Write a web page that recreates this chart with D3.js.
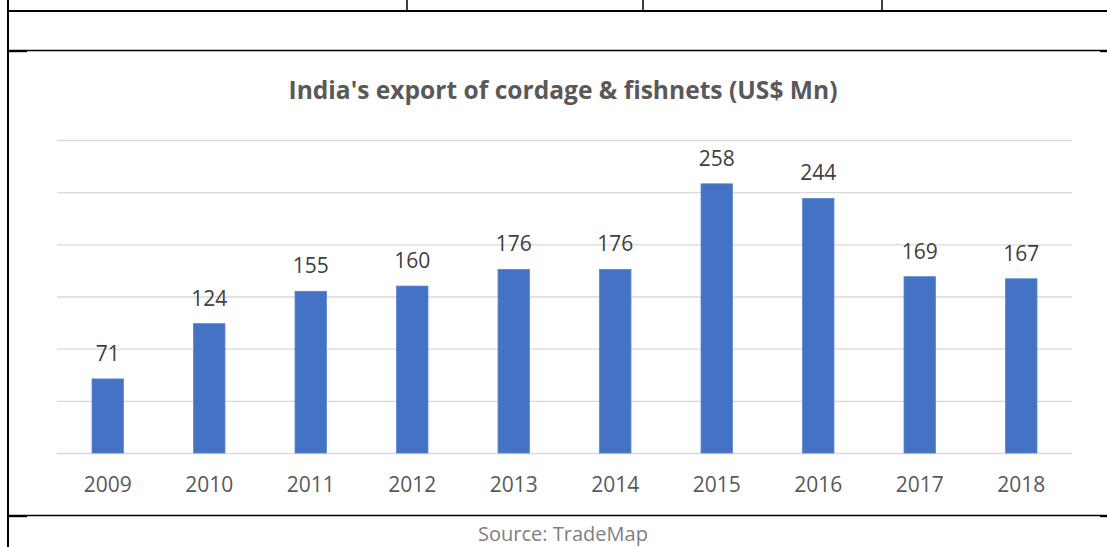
<html>
<head>
  <script src="https://d3js.org/d3.v7.min.js"></script>
  <style>
    body { margin: 0; background: #fff; }
    svg { display: block; font-family: "Open Sans", sans-serif; }
    .grid line { stroke: #d9d9d9; stroke-width: 1.3; }
    .grid .domain { display: none; }
    .xaxis .domain, .xaxis line { display: none; }
    .xaxis text { fill: #595959; font-size: 21px; font-family: "Open Sans", sans-serif; }
  </style>
</head>
<body>
<script>
  var years = ['2009', '2010', '2011', '2012', '2013', '2014', '2015', '2016', '2017', '2018'];
  var exports = [71, 124, 155, 160, 176, 176, 258, 244, 169, 167];
  var yTicks = [0, 50, 100, 150, 200, 250, 300];

  var width = 1107, height = 547;
  var plot = {left: 57, right: 1072, top: 140, bottom: 453};

  var svg = d3.select('body').append('svg')
    .attr('width', width)
    .attr('height', height);

  // page frame (table borders around the chart)
  var frame = svg.append('g').attr('stroke', '#000');
  frame.append('line').attr('x1', 8).attr('x2', 8).attr('y1', 0).attr('y2', height).attr('stroke-width', 2);
  frame.append('line').attr('x1', 8).attr('x2', width).attr('y1', 11).attr('y2', 11).attr('stroke-width', 2.2);
  [407, 643, 882].forEach(function(x) {
    frame.append('line').attr('x1', x).attr('x2', x).attr('y1', 0).attr('y2', 11).attr('stroke-width', 1.5);
  });
  [50.5, 515.5].forEach(function(y) {
    frame.append('line').attr('x1', 8).attr('x2', width).attr('y1', y).attr('y2', y).attr('stroke-width', 1.3);
    frame.append('line').attr('x1', 8).attr('x2', 27).attr('y1', y + 0.7).attr('y2', y + 0.7).attr('stroke-width', 2);
    frame.append('line').attr('x1', 1100).attr('x2', width).attr('y1', y + 0.7).attr('y2', y + 0.7).attr('stroke-width', 2);
  });

  var x = d3.scaleBand()
    .domain(years)
    .range([plot.left, plot.right])
    .paddingInner(0.69)
    .paddingOuter(0.345);

  var y = d3.scaleLinear()
    .domain([0, 300])
    .range([plot.bottom, plot.top]);

  svg.append('g')
    .attr('class', 'grid')
    .attr('transform', 'translate(' + plot.left + ',0)')
    .call(d3.axisLeft(y).tickValues(yTicks).tickSize(-(plot.right - plot.left)).tickFormat(''));

  svg.append('g')
    .selectAll('rect')
    .data(exports)
    .enter()
    .append('rect')
    .attr('x', function(d, i) { return x(years[i]); })
    .attr('width', x.bandwidth())
    .attr('y', function(d) { return y(d); })
    .attr('height', function(d) { return y(0) - y(d); })
    .attr('fill', '#4472c4')
    .attr('stroke', '#5a85d0')
    .attr('stroke-width', 0.8);

  svg.append('g')
    .selectAll('text')
    .data(exports)
    .enter()
    .append('text')
    .attr('x', function(d, i) { return x(years[i]) + x.bandwidth() / 2; })
    .attr('y', function(d) { return y(d) - 18; })
    .attr('text-anchor', 'middle')
    .attr('fill', '#404040')
    .attr('font-size', 21)
    .text(function(d) { return d; });

  var xAxis = svg.append('g')
    .attr('class', 'xaxis')
    .attr('transform', 'translate(0,' + plot.bottom + ')')
    .call(d3.axisBottom(x).tickSize(0).tickPadding(0));
  xAxis.selectAll('text').attr('dy', null).attr('y', 39);

  svg.append('text')
    .attr('x', 563)
    .attr('y', 99)
    .attr('text-anchor', 'middle')
    .attr('fill', '#595959')
    .attr('font-size', 25)
    .attr('font-weight', 'bold')
    .attr('textLength', 549)
    .attr('lengthAdjust', 'spacingAndGlyphs')
    .text("India's export of cordage & fishnets (US$ Mn)");

  svg.append('text')
    .attr('x', 563)
    .attr('y', 541)
    .attr('text-anchor', 'middle')
    .attr('fill', '#7f7f7f')
    .attr('font-size', 20)
    .text('Source: TradeMap');
</script>
</body>
</html>
